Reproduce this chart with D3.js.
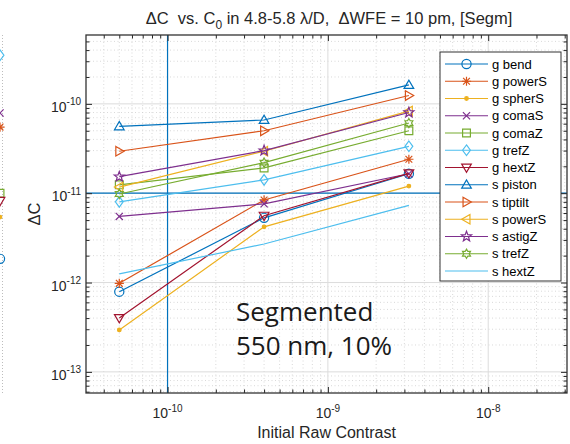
<!DOCTYPE html>
<html><head><meta charset="utf-8">
<script src="https://cdn.jsdelivr.net/npm/d3@7"></script>
<style>body{margin:0;background:#fff} svg{display:block} text{white-space:pre}</style>
</head><body>
<svg id="c" width="570" height="444"></svg>
<script>
// ---------------- data ----------------
const xVals = [5e-11, 4e-10, 3.2e-9];
const seriesNames = ["g bend","g powerS","g spherS","g comaS","g comaZ","g trefZ","g hextZ",
                     "s piston","s tiptilt","s powerS","s astigZ","s trefZ","s hextZ"];
const gBend    = [7.9e-13, 5.3e-12, 1.65e-11];
const gPowerS  = [9.8e-13, 8.4e-12, 2.4e-11];
const gSpherS  = [2.95e-13, 4.2e-12, 1.2e-11];
const gComaS   = [5.5e-12, 7.6e-12, 1.65e-11];
const gComaZ   = [1.24e-11, 1.92e-11, 5.0e-11];
const gTrefZ   = [8.0e-12, 1.41e-11, 3.35e-11];
const gHextZ   = [4.0e-13, 5.6e-12, 1.67e-11];
const sPiston  = [5.6e-11, 6.6e-11, 1.63e-10];
const sTiptilt = [2.95e-11, 5.0e-11, 1.24e-10];
const sPowerS  = [1.17e-11, 2.95e-11, 8.3e-11];
const sAstigZ  = [1.53e-11, 3.0e-11, 8.0e-11];
const sTrefZ   = [9.8e-12, 2.2e-11, 6.1e-11];
const sHextZ   = [1.25e-12, 2.7e-12, 7.3e-12];
const seriesValues = [gBend,gPowerS,gSpherS,gComaS,gComaZ,gTrefZ,gHextZ,
                      sPiston,sTiptilt,sPowerS,sAstigZ,sTrefZ,sHextZ];
const xTickVals = [1e-10, 1e-9, 1e-8];
const xTickExp  = ["-10","-9","-8"];
const yTickVals = [1e-13, 1e-12, 1e-11, 1e-10];
const yTickExp  = ["-13","-12","-11","-10"];
const refX = 1e-10, refY = 1e-11;
// fragment of the neighbouring subplot visible at the left edge (last column only)
const neighborSeries = ["g trefZ","g comaS","g powerS","g comaZ","g hextZ","g spherS","g bend"];
const neighborValues = [3.5e-10, 7.9e-11, 5.5e-11, 1.0e-11, 8.2e-12, 5.4e-12, 1.84e-12];

// ---------------- style ----------------
const colors = ["#0072BD","#D95319","#EDB120","#7E2F8E","#77AC30","#4DBEEE","#A2142F",
                "#0072BD","#D95319","#EDB120","#7E2F8E","#77AC30","#4DBEEE"];
const markers = ["o","*",".","x","s","d","v","^",">","<","p","h",""];
const FONT = "'Liberation Sans', Arial, Helvetica, sans-serif";
const TXT = "#262626";

const svg = d3.select("#c");
const L = 86, R = 567, T = 35, B = 393;
const x = d3.scaleLog().domain([3.1e-11, 3.1e-8]).range([L, R]);
const y = d3.scaleLog().domain([5.8e-14, 5.9e-10]).range([B, T]);

function isMajor(v){ const e = Math.log10(v); return Math.abs(e - Math.round(e)) < 1e-9; }
const xAll = x.ticks(), yAll = y.ticks();
const xMinor = xAll.filter(v => !isMajor(v)), xMajor = xAll.filter(isMajor);
const yMinor = yAll.filter(v => !isMajor(v)), yMajor = yAll.filter(isMajor);

function starPath(n, R1, R2, rot){
  let p = "";
  for (let i = 0; i < 2*n; i++){
    const a = rot + i*Math.PI/n, rr = i%2===0 ? R1 : R2;
    p += (i===0?"M":"L") + (rr*Math.sin(a)).toFixed(2) + "," + (-rr*Math.cos(a)).toFixed(2);
  }
  return p + "Z";
}
function markerPath(t){
  const r = 4.6;
  switch(t){
    case "o": return `M${r},0A${r},${r} 0 1,1 ${-r},0A${r},${r} 0 1,1 ${r},0Z`;
    case "*": { const d = r*0.74; return `M${-r},0H${r}M0,${-r}V${r}M${-d},${-d}L${d},${d}M${-d},${d}L${d},${-d}`; }
    case "x": { const d = r*0.78; return `M${-d},${-d}L${d},${d}M${-d},${d}L${d},${-d}`; }
    case "s": { const s = r*0.85; return `M${-s},${-s}H${s}V${s}H${-s}Z`; }
    case "d": return `M0,${-r*1.15}L${r*0.85},0L0,${r*1.15}L${-r*0.85},0Z`;
    case "v": return `M${-r*1.05},${-r*0.75}L${r*1.05},${-r*0.75}L0,${r*1.05}Z`;
    case "^": return `M${-r*1.05},${r*0.75}L${r*1.05},${r*0.75}L0,${-r*1.05}Z`;
    case ">": return `M${-r*0.75},${-r*1.05}L${r*1.05},0L${-r*0.75},${r*1.05}Z`;
    case "<": return `M${r*0.75},${-r*1.05}L${-r*1.05},0L${r*0.75},${r*1.05}Z`;
    case "p": return starPath(5, r*1.15, r*0.48, 0);
    case "h": return starPath(6, r*1.0, r*0.58, 0);
    case ".": return `M1.8,0A1.8,1.8 0 1,1 -1.8,0A1.8,1.8 0 1,1 1.8,0Z`;
  }
  return null;
}
function drawMarker(g, t, col, cx, cy){
  const p = markerPath(t); if (!p) return;
  g.append("path").attr("d", p).attr("transform", `translate(${cx},${cy})`)
   .attr("fill", t === "." ? col : "none").attr("stroke", col).attr("stroke-width", 1.2)
   .attr("stroke-linejoin", "miter");
}

// ---------------- neighbour fragment ----------------
const nx = d3.scaleLinear().domain([0, 1]).range([-480, 0]);
svg.append("line").attr("x1", 2.5).attr("x2", 2.5).attr("y1", T).attr("y2", B)
   .attr("stroke", "#bdbdbd").attr("stroke-width", 1).attr("stroke-dasharray", "1,2");
neighborSeries.forEach((nm, i) => {
  const k = seriesNames.indexOf(nm);
  drawMarker(svg, markers[k], colors[k], nx(1), y(neighborValues[i]));
});

// ---------------- grid ----------------
const grid = svg.append("g");
grid.selectAll(".gxm").data(xMinor).join("line")
  .attr("x1", d => x(d)).attr("x2", d => x(d)).attr("y1", T).attr("y2", B)
  .attr("stroke", "#cfcfcf").attr("stroke-width", 0.8).attr("stroke-dasharray", "1,2.5");
grid.selectAll(".gym").data(yMinor).join("line")
  .attr("y1", d => y(d)).attr("y2", d => y(d)).attr("x1", L).attr("x2", R)
  .attr("stroke", "#cfcfcf").attr("stroke-width", 0.8).attr("stroke-dasharray", "1,2.5");
grid.selectAll(".gxM").data(xMajor).join("line")
  .attr("x1", d => x(d)).attr("x2", d => x(d)).attr("y1", T).attr("y2", B)
  .attr("stroke", "#dcdcdc").attr("stroke-width", 1);
grid.selectAll(".gyM").data(yMajor).join("line")
  .attr("y1", d => y(d)).attr("y2", d => y(d)).attr("x1", L).attr("x2", R)
  .attr("stroke", "#dcdcdc").attr("stroke-width", 1);

// ---------------- reference lines ----------------
svg.append("line").attr("x1", x(refX)).attr("x2", x(refX)).attr("y1", T).attr("y2", B)
   .attr("stroke", "#0072BD").attr("stroke-width", 1.2);
svg.append("line").attr("y1", y(refY)).attr("y2", y(refY)).attr("x1", L).attr("x2", R)
   .attr("stroke", "#0072BD").attr("stroke-width", 1.2);

// ---------------- series ----------------
const line = d3.line().x((d, i) => x(xVals[i])).y(d => y(d));
seriesValues.forEach((vals, k) => {
  const g = svg.append("g");
  g.append("path").attr("d", line(vals)).attr("fill", "none")
   .attr("stroke", colors[k]).attr("stroke-width", 1.2);
  vals.forEach((v, i) => drawMarker(g, markers[k], colors[k], x(xVals[i]), y(v)));
});

// ---------------- axes (ticks) ----------------
function styleAxis(g){ g.select(".domain").remove(); g.selectAll("line").attr("stroke", TXT).attr("stroke-width", 1); g.selectAll("text").remove(); }
svg.append("g").attr("transform", `translate(0,${B})`).call(d3.axisBottom(x).tickValues(xMinor).tickSize(-3.5)).call(styleAxis);
svg.append("g").attr("transform", `translate(0,${B})`).call(d3.axisBottom(x).tickValues(xMajor).tickSize(-6)).call(styleAxis);
svg.append("g").attr("transform", `translate(0,${T})`).call(d3.axisTop(x).tickValues(xMinor).tickSize(-3.5)).call(styleAxis);
svg.append("g").attr("transform", `translate(0,${T})`).call(d3.axisTop(x).tickValues(xMajor).tickSize(-6)).call(styleAxis);
svg.append("g").attr("transform", `translate(${L},0)`).call(d3.axisLeft(y).tickValues(yMinor).tickSize(-3.5)).call(styleAxis);
svg.append("g").attr("transform", `translate(${L},0)`).call(d3.axisLeft(y).tickValues(yMajor).tickSize(-6)).call(styleAxis);
svg.append("g").attr("transform", `translate(${R},0)`).call(d3.axisRight(y).tickValues(yMinor).tickSize(-3.5)).call(styleAxis);
svg.append("g").attr("transform", `translate(${R},0)`).call(d3.axisRight(y).tickValues(yMajor).tickSize(-6)).call(styleAxis);
svg.append("rect").attr("x", L).attr("y", T).attr("width", R - L).attr("height", B - T)
   .attr("fill", "none").attr("stroke", "#333").attr("stroke-width", 1.3);

// tick labels
xTickVals.forEach((v, i) => {
  const t = svg.append("text").attr("x", x(v)).attr("y", 418).attr("text-anchor", "middle")
    .attr("font-family", FONT).attr("font-size", 14).attr("fill", TXT);
  t.append("tspan").text("10");
  t.append("tspan").attr("dy", -6.5).attr("font-size", 10).text(xTickExp[i]);
});
yTickVals.forEach((v, i) => {
  const t = svg.append("text").attr("x", 81).attr("y", y(v) + 8).attr("text-anchor", "end")
    .attr("font-family", FONT).attr("font-size", 14).attr("fill", TXT);
  t.append("tspan").text("10");
  t.append("tspan").attr("dy", -6.5).attr("font-size", 10).text(yTickExp[i]);
});

// axis labels
svg.append("text").attr("x", (L + R) / 2).attr("y", 438).attr("text-anchor", "middle")
  .attr("font-family", FONT).attr("font-size", 16).attr("fill", TXT).text("Initial Raw Contrast");
svg.append("text").attr("transform", `translate(40,${(T + B) / 2}) rotate(-90)`).attr("text-anchor", "middle")
  .attr("font-family", FONT).attr("font-size", 16.5).attr("fill", TXT).text("ΔC");

// title
const title = svg.append("text").attr("x", 329).attr("y", 24).attr("text-anchor", "middle")
  .attr("font-family", FONT).attr("font-size", 16.5).attr("fill", TXT);
title.append("tspan").text("ΔC  vs. C");
title.append("tspan").attr("dy", 4.5).attr("font-size", 12).text("0");
title.append("tspan").attr("dy", -4.5).text(" in 4.8-5.8 λ/D,  ΔWFE = 10 pm, [Segm]");

// annotation
const ann = svg.append("text").attr("font-family", "'Open Sans', Lato, sans-serif")
  .attr("font-size", 26).attr("fill", "#1a1a1a");
ann.append("tspan").attr("x", 236).attr("y", 321).text("Segmented");
ann.append("tspan").attr("x", 236).attr("y", 355).text("550 nm, 10%");

// ---------------- legend ----------------
const lg = svg.append("g");
lg.append("rect").attr("x", 440).attr("y", 52).attr("width", 121).attr("height", 229)
  .attr("fill", "#fff").attr("stroke", "#333").attr("stroke-width", 1);
seriesNames.forEach((nm, k) => {
  const cy = 64 + k * 17.25;
  lg.append("line").attr("x1", 445).attr("x2", 488).attr("y1", cy).attr("y2", cy)
    .attr("stroke", colors[k]).attr("stroke-width", 1.2);
  drawMarker(lg, markers[k], colors[k], 466.5, cy);
  lg.append("text").attr("x", 492).attr("y", cy + 4.5).attr("font-family", FONT)
    .attr("font-size", 13).attr("fill", "#000").text(nm);
});
</script>
</body></html>
